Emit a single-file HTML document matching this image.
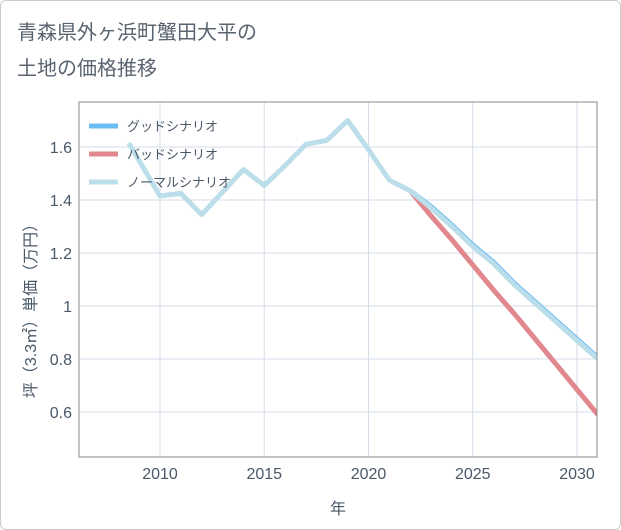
<!DOCTYPE html>
<html><head><meta charset="utf-8"><style>
body{margin:0;background:#fff;}
#wrap{position:relative;width:621px;height:530px;background:#fff;font-family:"Liberation Sans","Noto Sans CJK JP",sans-serif;}
#frame{position:absolute;left:0;top:0;width:619px;height:528px;border:1px solid #ccc;border-radius:6px;}
</style></head><body>
<div id="wrap">
<div id="frame"></div>
<svg id="chart" width="621" height="530" style="position:absolute;left:0;top:0">
<text x="17" y="39" font-size="20" fill="#5a6470" font-family="Liberation Sans, Noto Sans CJK JP, sans-serif">青森県外ヶ浜町蟹田大平の</text>
<text x="17" y="75" font-size="20" fill="#5a6470" font-family="Liberation Sans, Noto Sans CJK JP, sans-serif">土地の価格推移</text>
<g id="grid"></g><g id="series"></g><g id="axes"></g>
</svg>
</div>
<script>
const years=[2008.5,2010,2011,2012,2013,2014,2015,2016,2017,2018,2019,2020,2021,2022,2023,2024,2025,2026,2027,2028,2029,2030,2031];
const normal=[1.615,1.415,1.425,1.345,1.43,1.515,1.455,1.53,1.61,1.625,1.70,1.59,1.475,1.435,1.37,1.30,1.225,1.16,1.08,1.01,0.94,0.87,0.80];
const goodYears=[2022,2023,2024,2025,2026,2027,2028,2029,2030,2031];
const good=[1.435,1.375,1.305,1.23,1.165,1.085,1.015,0.945,0.875,0.805];
const badYears=[2022,2023,2024,2025,2026,2027,2028,2029,2030,2031];
const bad=[1.435,1.34,1.25,1.155,1.06,0.97,0.875,0.78,0.685,0.59];
const xTicks=[2010,2015,2020,2025,2030];
const yTicks=[0.6,0.8,1,1.2,1.4,1.6];
const yTickLabels=["0.6","0.8","1","1.2","1.4","1.6"];
const L=79,R=597,T=102,B=457;
const X=v=>160+(v-2010)*20.85;
const Y=v=>306-(v-1)*265;
const NS="http://www.w3.org/2000/svg";
const TXT='#4a5868';
function mk(tag,attrs,parent){const e=document.createElementNS(NS,tag);for(const k in attrs)e.setAttribute(k,attrs[k]);parent.appendChild(e);return e;}
const grid=document.getElementById('grid'),ser=document.getElementById('series'),ax=document.getElementById('axes');
xTicks.forEach(t=>{const l=mk('line',{x1:X(t),x2:X(t),y1:T,y2:B,stroke:'#d5dee8'},grid);

const tx=mk('text',{x:X(t),y:479,'font-size':16,fill:TXT,'text-anchor':'middle'},ax);tx.textContent=t;
});
yTicks.forEach((t,i)=>{const l=mk('line',{x1:L,x2:R,y1:Y(t),y2:Y(t),stroke:'#d5dee8'},grid);

const tx=mk('text',{x:72,y:Y(t)+6,'font-size':16,fill:TXT,'text-anchor':'end'},ax);tx.textContent=yTickLabels[i];
});
const box=mk('rect',{x:L,y:T,width:R-L,height:B-T,fill:'none',stroke:'#888'},ax);

function line(xs,ys,color,w,name){const p=mk('polyline',{points:xs.map((x,i)=>X(x)+','+Y(ys[i])).join(' '),fill:'none',stroke:color,'stroke-width':w,'stroke-linejoin':'round'},ser);
}
const clip=mk('clipPath',{id:'pc'},ser);mk('rect',{x:L,y:T,width:R-L,height:B-T},clip);ser.setAttribute('clip-path','url(#pc)');
line(badYears,bad,'#e0888e',5,'bad-scenario-line');
line(goodYears,good,'#6bbcf0',5,'good-scenario-line');
line(years,normal,'#bcdeea',5,'normal-scenario-line');
const lg=mk('g',{},ax);
[['グッドシナリオ','#6bbcf0',126],['バッドシナリオ','#e0888e',154],['ノーマルシナリオ','#bcdeea',182]].forEach(([t,c,y])=>{
const s=mk('line',{x1:89,x2:118,y1:y,y2:y,stroke:c,'stroke-width':5},lg);

const tx=mk('text',{x:127,y:y+5,'font-size':13,fill:TXT},lg);tx.textContent=t;
});
const xt=mk('text',{x:338,y:514,'font-size':16,fill:TXT,'text-anchor':'middle'},ax);xt.textContent='年';

const yt=mk('text',{x:0,y:0,'font-size':16,fill:TXT,'text-anchor':'middle',transform:'translate(36,307) rotate(-90)'},ax);yt.textContent='坪（3.3㎡）単価（万円）';

</script>
</body></html>
